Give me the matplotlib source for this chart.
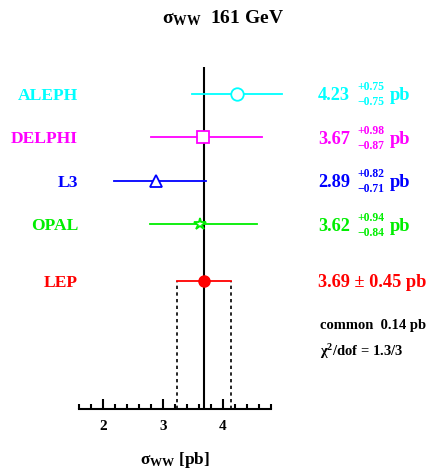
import numpy as np
import matplotlib
matplotlib.use('Agg')
import matplotlib.pyplot as plt
import matplotlib.transforms as mtransforms

plt.rcParams['font.family'] = ['Liberation Serif', 'DejaVu Serif']
plt.rcParams['font.weight'] = 'bold'
plt.rcParams['axes.labelweight'] = 'bold'
plt.rcParams['mathtext.fontset'] = 'custom'
plt.rcParams['mathtext.rm'] = 'Liberation Serif:bold'
plt.rcParams['mathtext.bf'] = 'Liberation Serif:bold'
plt.rcParams['mathtext.it'] = 'Liberation Serif'

# data
names = ['ALEPH', 'DELPHI', 'L3', 'OPAL']
vals = [4.23, 3.67, 2.89, 3.62]
err_up = [0.75, 0.98, 0.82, 0.94]
err_dn = [0.75, 0.87, 0.71, 0.84]
colors = ['#00ffff', '#ff00ff', '#0000ff', '#00ee00']
markers = ['o', 's', '^', '*']
msizes = [9, 8, 8, 9]
ypos = [5, 4, 3, 2]

lep_val = 3.69
lep_err = 0.45
lep_y = 0.69
common = 0.14
chi2 = '1.3/3'

fig = plt.figure(figsize=(4.32, 4.71), dpi=100)
ax = fig.add_axes([79/432, 62/471, 192/432, 342/471])
ax.set_xlim(1.6, 4.8)
ax.set_ylim(-2.25, 5.62)

for s in ['left', 'right', 'top']:
    ax.spines[s].set_visible(False)
ax.spines['bottom'].set_linewidth(1.5)
ax.set_yticks([])
ax.set_xticks([2, 3, 4])
ax.set_xticks(np.arange(1.6, 4.81, 0.2), minor=True)
ax.tick_params(axis='x', which='major', direction='in', length=7, width=1.5, labelsize=11, pad=8)
ax.tick_params(axis='x', which='minor', direction='in', length=3.5, width=1.5)

# central line
ax.axvline(lep_val, color='black', lw=1.5, zorder=1)
# LEP band (dotted)
for xv in [lep_val - lep_err, lep_val + lep_err]:
    ax.plot([xv, xv], [-2.25, lep_y], color='black', lw=1.2, ls=(0, (2, 2)), zorder=1)

tr = mtransforms.blended_transform_factory(fig.transFigure, ax.transData)

for n, v, eu, ed, c, m, ms, y in zip(names, vals, err_up, err_dn, colors, markers, msizes, ypos):
    ax.plot([v - ed, v + eu], [y, y], color=c, lw=1.3, clip_on=False, zorder=2)
    ax.plot([v], [y], marker=m, ms=ms, mfc='white', mec=c, mew=1.3, clip_on=False, zorder=3)
    ax.text(78/432, y - 0.04, n, color=c, fontsize=12.6, ha='right', va='center', transform=tr)
    ax.text(318/432, y - 0.04, '%.2f' % v, color=c, fontsize=13.2, ha='left', va='center', transform=tr)
    ax.text(357/432, y + 0.15, '+%.2f' % eu, color=c, fontsize=8.4, ha='left', va='center', transform=tr)
    ax.text(357/432, y - 0.19, '\u2212%.2f' % ed, color=c, fontsize=8.4, ha='left', va='center', transform=tr)
    ax.text(390/432, y - 0.04, 'pb', color=c, fontsize=13.2, ha='left', va='center', transform=tr)

ax.plot([lep_val - lep_err, lep_val + lep_err], [lep_y, lep_y], color='red', lw=1.3, zorder=2)
ax.plot([lep_val], [lep_y], marker='o', ms=8, color='red', zorder=3)
ax.text(78/432, lep_y - 0.04, 'LEP', color='red', fontsize=12.6, ha='right', va='center', transform=tr)
ax.text(318/432, lep_y - 0.04, '%.2f \u00b1 %.2f pb' % (lep_val, lep_err), color='red', fontsize=13.2,
        ha='left', va='center', transform=tr)

fig.text(320/432, 1 - 325/471, 'common  %.2f pb' % common, fontsize=10.5, ha='left', va='center')
fig.text(320/432, 1 - 352/471, '\u03c7$^{2}$/dof = ' + chi2, fontsize=10.5, ha='left', va='center')

fig.text(223/432, 1 - 18/471, r'$\mathit{\sigma}_{\mathbf{WW}}$  161 GeV', fontsize=14, ha='center', va='center')
ax.set_xlabel(r'$\mathit{\sigma}_{\mathbf{WW}}$ [pb]', fontsize=12.5, labelpad=12)

fig.savefig('out.png', dpi=100)
